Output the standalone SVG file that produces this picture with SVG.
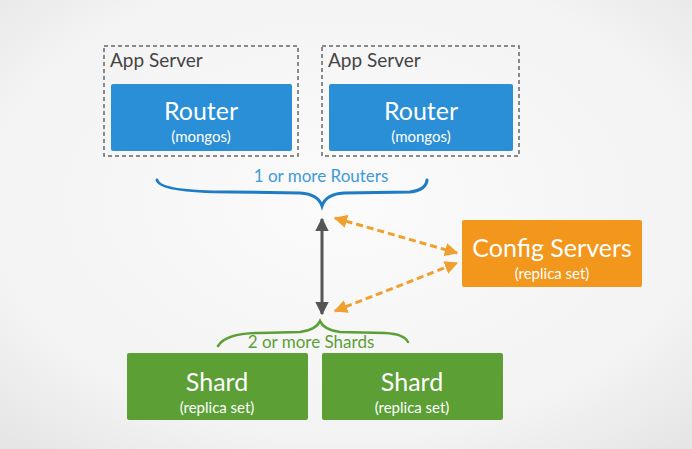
<svg xmlns="http://www.w3.org/2000/svg" width="692" height="449" viewBox="0 0 692 449">
<defs>
<radialGradient id="bg" cx="0.5" cy="0.45" r="0.75">
<stop offset="0" stop-color="#fbfbfb"/>
<stop offset="0.7" stop-color="#f3f3f3"/>
<stop offset="1" stop-color="#e4e4e4"/>
</radialGradient>
<marker id="ag" viewBox="0 0 10 10" refX="9" refY="5" markerWidth="4.5" markerHeight="4.5" orient="auto-start-reverse"><path d="M0,0 L10,5 L0,10 z" fill="#555"/></marker>
<marker id="ao" viewBox="0 0 10 10" refX="9" refY="5" markerWidth="4.5" markerHeight="4.5" orient="auto-start-reverse"><path d="M0,0 L10,5 L0,10 z" fill="#f0a030"/></marker>
</defs>
<style>
text{font-family:Lato,"Open Sans","Liberation Sans",sans-serif}
.dash{fill:none;stroke:#666;stroke-width:1.5;stroke-dasharray:4 3}
.router{fill:#2a8fd6}
.shard{fill:#5b9f35}
.cfg{fill:#f2961c}
.t1{fill:#fff;font-size:25px;text-anchor:middle}
.t2{fill:#fff;font-size:15px;text-anchor:middle}
.app{fill:#444;font-size:19px}
</style>
<rect width="692" height="449" fill="url(#bg)"/>
<g id="appserver1">
<rect class="dash" x="104" y="46" width="194" height="110"/>
<text class="app" x="110" y="67">App Server</text>
</g>
<g id="router1">
<rect class="router" x="111" y="84" width="181" height="67" rx="2"/>
<text class="t1" x="201" y="120">Router</text>
<text class="t2" x="201" y="142">(mongos)</text>
</g>
<g id="appserver2">
<rect class="dash" x="322" y="46" width="197" height="110"/>
<text class="app" x="328" y="67">App Server</text>
</g>
<g id="router2">
<rect class="router" x="329" y="84" width="184" height="67" rx="2"/>
<text class="t1" x="421" y="120">Router</text>
<text class="t2" x="421" y="142">(mongos)</text>
</g>
<g id="routers-brace">
<path d="M157,180 Q160,192 230,192 L300,193 Q318,194 322,206 Q326,194 344,193 L410,192 Q426,190 427,180" fill="none" stroke="#1d7cc4" stroke-width="3" stroke-linecap="round"/>
<text x="321" y="182" fill="#3d9bd8" font-size="17" text-anchor="middle">1 or more Routers</text>
</g>
<g id="config">
<rect class="cfg" x="462" y="220" width="180" height="67" rx="2"/>
<text class="t1" x="552" y="257">Config Servers</text>
<text class="t2" x="552" y="279">(replica set)</text>
</g>
<g id="shards-brace">
<path d="M218,346 Q226,333 260,333 L300,332 Q316,330 320,321 Q324,330 340,332 L385,333 Q404,334 408,342" fill="none" stroke="#5b9f35" stroke-width="2.5" stroke-linecap="round"/>
<text x="311" y="348" fill="#5b9f35" font-size="17" text-anchor="middle">2 or more Shards</text>
</g>
<g id="shard1">
<rect class="shard" x="127" y="353" width="181" height="67" rx="2"/>
<text class="t1" x="217" y="391">Shard</text>
<text class="t2" x="217" y="413">(replica set)</text>
</g>
<g id="shard2">
<rect class="shard" x="322" y="353" width="181" height="67" rx="2"/>
<text class="t1" x="412" y="391">Shard</text>
<text class="t2" x="412" y="413">(replica set)</text>
</g>
<g id="connectors">
<line x1="322" y1="219" x2="322" y2="314" stroke="#555" stroke-width="3" marker-start="url(#ag)" marker-end="url(#ag)"/>
<line x1="335" y1="218" x2="457" y2="253" stroke="#f0a030" stroke-width="3" stroke-dasharray="7 4" marker-start="url(#ao)" marker-end="url(#ao)"/>
<line x1="335" y1="311" x2="457" y2="263" stroke="#f0a030" stroke-width="3" stroke-dasharray="7 4" marker-start="url(#ao)" marker-end="url(#ao)"/>
</g>
</svg>
